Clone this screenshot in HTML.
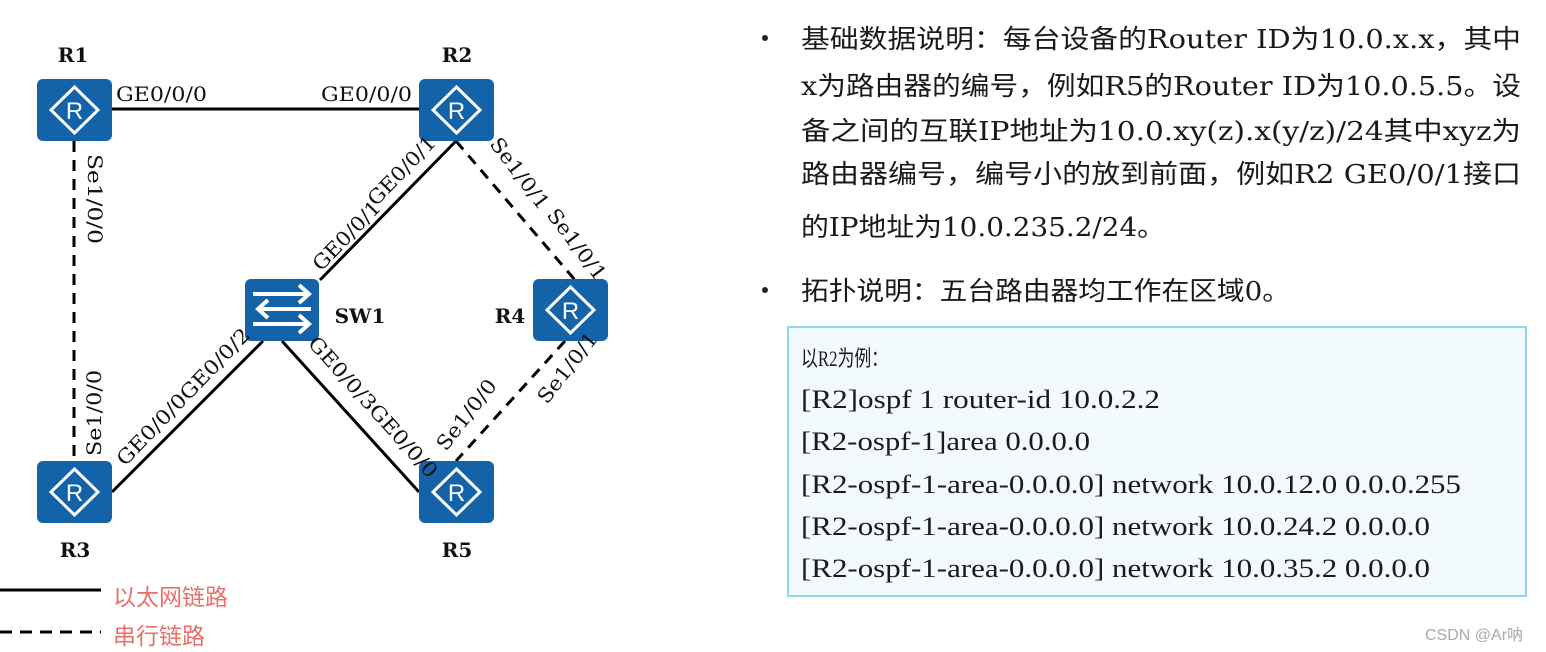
<!DOCTYPE html>
<html><head><meta charset="utf-8"><style>
html,body{margin:0;padding:0;background:#fff;}
svg{display:block}
.lb{font-family:"DejaVu Serif","Liberation Serif",serif;font-size:20px;fill:#111}
.nm{font-family:"DejaVu Serif","Liberation Serif",serif;font-size:20px;font-weight:bold;fill:#111}
.tx{font-family:"DejaVu Serif","Noto Sans CJK SC",serif;font-size:26px;fill:#1a1a1a}
.cd{font-family:"Liberation Serif","Noto Sans CJK SC",serif;font-size:26px;fill:#1a1a1a}
.lg{font-family:"Liberation Sans","Noto Sans CJK SC",sans-serif;font-size:23px;fill:#e8706a}
</style></head><body>
<svg width="1546" height="652" viewBox="0 0 1546 652" xmlns="http://www.w3.org/2000/svg">
<defs>
<g id="rt">
<rect x="0" y="0" width="75" height="62" rx="6" fill="#1462a8"/>
<polygon points="37.5,8 61,31 37.5,54 14,31" fill="none" stroke="#fff" stroke-width="3"/>
<text x="37.5" y="40" text-anchor="middle" font-family="Liberation Sans,sans-serif" font-size="24" fill="#fff">R</text>
</g>
</defs>
<g stroke="#000" stroke-width="3" fill="none">
<line x1="112" y1="109" x2="419" y2="109"/>
<line x1="456" y1="141" x2="320" y2="280"/>
<line x1="263" y1="341" x2="112" y2="492"/>
<line x1="282" y1="341" x2="419" y2="492"/>
</g>
<g stroke="#000" stroke-width="3" fill="none" stroke-dasharray="11,8">
<line x1="74" y1="141" x2="74" y2="461"/>
<line x1="456" y1="141" x2="575" y2="280"/>
<line x1="565" y1="341" x2="456" y2="461"/>
</g>
<use href="#rt" x="37" y="79"/>
<use href="#rt" x="419" y="79"/>
<use href="#rt" x="533" y="279"/>
<use href="#rt" x="37" y="461"/>
<use href="#rt" x="419" y="461"/>
<rect x="245" y="279" width="74" height="62" rx="6" fill="#1462a8"/>
<g stroke="#fff" stroke-width="4" fill="none">
<line x1="253" y1="294" x2="309" y2="294"/><polyline points="299,285 309,294 299,303"/>
<line x1="258" y1="309" x2="311" y2="309"/><polyline points="268,300 258,309 268,318"/>
<line x1="253" y1="324" x2="309" y2="324"/><polyline points="299,315 309,324 299,333"/>
</g>
<text class="nm" x="73" y="62" text-anchor="middle">R1</text>
<text class="nm" x="457" y="62" text-anchor="middle">R2</text>
<text class="nm" x="360" y="323" text-anchor="middle">SW1</text>
<text class="nm" x="510" y="323" text-anchor="middle">R4</text>
<text class="nm" x="75" y="557" text-anchor="middle">R3</text>
<text class="nm" x="457" y="557" text-anchor="middle">R5</text>
<text class="lb" x="116" y="101" textLength="91" lengthAdjust="spacingAndGlyphs">GE0/0/0</text>
<text class="lb" x="321" y="101" textLength="91" lengthAdjust="spacingAndGlyphs">GE0/0/0</text>
<text class="lb" transform="translate(88,154) rotate(90)" textLength="90" lengthAdjust="spacingAndGlyphs">Se1/0/0</text>
<text class="lb" transform="translate(101,456) rotate(-90)" textLength="86" lengthAdjust="spacingAndGlyphs">Se1/0/0</text>
<text class="lb" transform="translate(321,272) rotate(-46)" textLength="88" lengthAdjust="spacingAndGlyphs">GE0/0/1</text>
<text class="lb" transform="translate(376,207) rotate(-46)" textLength="88" lengthAdjust="spacingAndGlyphs">GE0/0/1</text>
<text class="lb" transform="translate(125,467) rotate(-46)" textLength="182" lengthAdjust="spacingAndGlyphs">GE0/0/0GE0/0/2</text>
<text class="lb" transform="translate(307,344) rotate(48)" textLength="182" lengthAdjust="spacingAndGlyphs">GE0/0/3GE0/0/0</text>
<text class="lb" transform="translate(489,144) rotate(53)" textLength="84" lengthAdjust="spacingAndGlyphs">Se1/0/1</text>
<text class="lb" transform="translate(546,215) rotate(53)" textLength="84" lengthAdjust="spacingAndGlyphs">Se1/0/1</text>
<text class="lb" transform="translate(446,452) rotate(-52)" textLength="84" lengthAdjust="spacingAndGlyphs">Se1/0/0</text>
<text class="lb" transform="translate(547,405) rotate(-52)" textLength="84" lengthAdjust="spacingAndGlyphs">Se1/0/1</text>
<line x1="0" y1="590" x2="101" y2="590" stroke="#000" stroke-width="3"/>
<line x1="0" y1="632" x2="101" y2="632" stroke="#000" stroke-width="3" stroke-dasharray="12,8"/>
<text class="lg" x="113" y="605">以太网链路</text>
<text class="lg" x="113" y="644">串行链路</text>
<circle cx="765" cy="38" r="3" fill="#222"/>
<circle cx="765" cy="290" r="3" fill="#222"/>
<text class="tx" x="801" y="48" textLength="720" lengthAdjust="spacingAndGlyphs">基础数据说明：每台设备的Router ID为10.0.x.x，其中</text>
<text class="tx" x="801" y="95" textLength="720" lengthAdjust="spacingAndGlyphs">x为路由器的编号，例如R5的Router ID为10.0.5.5。设</text>
<text class="tx" x="801" y="140" textLength="720" lengthAdjust="spacingAndGlyphs">备之间的互联IP地址为10.0.xy(z).x(y/z)/24其中xyz为</text>
<text class="tx" x="801" y="183" textLength="720" lengthAdjust="spacingAndGlyphs">路由器编号，编号小的放到前面，例如R2 GE0/0/1接口</text>
<text class="tx" x="801" y="236" textLength="364" lengthAdjust="spacingAndGlyphs">的IP地址为10.0.235.2/24。</text>
<text class="tx" x="801" y="300" textLength="489" lengthAdjust="spacingAndGlyphs">拓扑说明：五台路由器均工作在区域0。</text>
<rect x="788" y="327" width="738" height="269" fill="#f3fafd" stroke="#8fd6f0" stroke-width="2"/>
<text x="801" y="366" textLength="87" lengthAdjust="spacingAndGlyphs" font-family="Liberation Serif,Noto Sans CJK SC,serif" font-size="22" fill="#1a1a1a">以R2为例：</text>
<text class="cd" x="801" y="408" textLength="359" lengthAdjust="spacingAndGlyphs">[R2]ospf 1 router-id 10.0.2.2</text>
<text class="cd" x="801" y="450" textLength="289" lengthAdjust="spacingAndGlyphs">[R2-ospf-1]area 0.0.0.0</text>
<text class="cd" x="801" y="493" textLength="660" lengthAdjust="spacingAndGlyphs">[R2-ospf-1-area-0.0.0.0] network 10.0.12.0 0.0.0.255</text>
<text class="cd" x="801" y="535" textLength="629" lengthAdjust="spacingAndGlyphs">[R2-ospf-1-area-0.0.0.0] network 10.0.24.2 0.0.0.0</text>
<text class="cd" x="801" y="577" textLength="629" lengthAdjust="spacingAndGlyphs">[R2-ospf-1-area-0.0.0.0] network 10.0.35.2 0.0.0.0</text>
<text x="1425" y="640" font-family="Liberation Sans,Noto Sans CJK SC,sans-serif" font-size="16" fill="#aaa">CSDN @Ar呐</text>
</svg>
</body></html>
